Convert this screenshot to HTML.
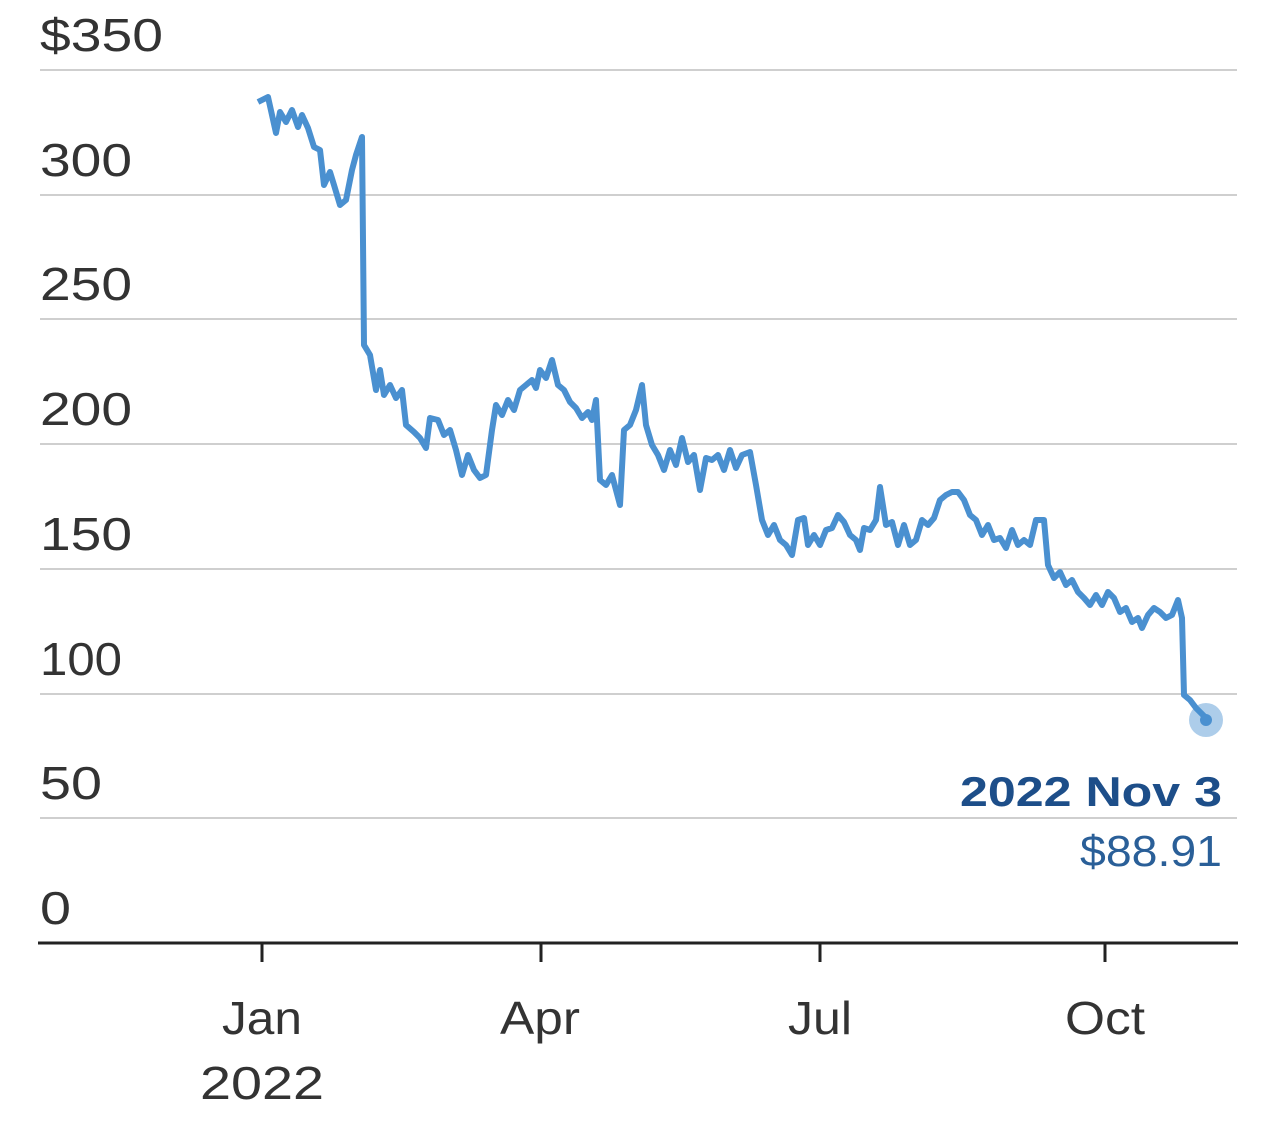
<!DOCTYPE html>
<html><head><meta charset="utf-8"><style>
html,body{margin:0;padding:0;background:#fff;}
svg text{font-family:"Liberation Sans",sans-serif;}
</style></head><body>
<svg width="1280" height="1130" viewBox="0 0 1280 1130" xmlns="http://www.w3.org/2000/svg">
<g stroke="#cfcfcf" stroke-width="2">
<line x1="40" y1="70" x2="1237" y2="70"/>
<line x1="40" y1="195" x2="1237" y2="195"/>
<line x1="40" y1="319" x2="1237" y2="319"/>
<line x1="40" y1="444" x2="1237" y2="444"/>
<line x1="40" y1="569" x2="1237" y2="569"/>
<line x1="40" y1="694" x2="1237" y2="694"/>
<line x1="40" y1="818" x2="1237" y2="818"/>
</g>
<line x1="38" y1="943" x2="1238" y2="943" stroke="#222" stroke-width="3"/>
<g stroke="#222" stroke-width="3">
<line x1="262" y1="943" x2="262" y2="962"/>
<line x1="541" y1="943" x2="541" y2="962"/>
<line x1="820" y1="943" x2="820" y2="962"/>
<line x1="1105" y1="943" x2="1105" y2="962"/>
</g>
<g fill="#333" font-size="46">
<text x="40" y="51" textLength="123" lengthAdjust="spacingAndGlyphs">$350</text>
<text x="40" y="176" textLength="92" lengthAdjust="spacingAndGlyphs">300</text>
<text x="40" y="300" textLength="92" lengthAdjust="spacingAndGlyphs">250</text>
<text x="40" y="425" textLength="92" lengthAdjust="spacingAndGlyphs">200</text>
<text x="40" y="550" textLength="92" lengthAdjust="spacingAndGlyphs">150</text>
<text x="40" y="675" textLength="82" lengthAdjust="spacingAndGlyphs">100</text>
<text x="40" y="799" textLength="62" lengthAdjust="spacingAndGlyphs">50</text>
<text x="40" y="924" textLength="31" lengthAdjust="spacingAndGlyphs">0</text>
</g>
<g fill="#333" font-size="46">
<text x="222" y="1034" textLength="80" lengthAdjust="spacingAndGlyphs">Jan</text>
<text x="200" y="1099" textLength="124" lengthAdjust="spacingAndGlyphs">2022</text>
<text x="500" y="1034" textLength="80" lengthAdjust="spacingAndGlyphs">Apr</text>
<text x="788" y="1034" textLength="64" lengthAdjust="spacingAndGlyphs">Jul</text>
<text x="1065" y="1034" textLength="80" lengthAdjust="spacingAndGlyphs">Oct</text>
</g>
<polyline fill="none" stroke="#4a90d0" stroke-width="6" stroke-linejoin="round" points="258,102 268,97 276,133 280,112 286,122 292,110 298,127 302,115 308,128 314,147 320,150 324,185 330,172 334,185 340,205 346,200 352,170 356,155 362,137 364,345 370,355 376,390 380,370 384,395 390,385 396,398 402,390 406,425 414,432 420,438 426,448 430,418 438,420 444,435 450,430 456,450 462,475 468,455 474,470 480,478 486,475 492,430 496,405 502,415 508,400 514,410 520,390 526,385 532,380 536,388 540,370 546,378 552,360 558,385 564,390 570,402 576,408 582,418 588,412 592,420 596,400 600,480 606,485 612,475 620,505 624,430 630,425 636,410 642,385 646,425 652,445 658,455 664,470 670,450 676,465 682,438 688,462 694,455 700,490 706,458 712,460 718,455 724,470 730,450 736,468 742,455 750,452 756,485 762,520 768,535 774,525 780,540 786,545 792,555 798,520 804,518 808,545 814,535 820,545 826,530 832,528 838,515 844,522 850,535 856,540 860,550 864,528 870,530 876,520 880,487 886,525 892,522 898,545 904,525 910,545 916,540 922,520 928,525 934,518 940,500 946,495 952,492 958,492 964,500 970,515 976,520 982,535 988,525 994,540 1000,538 1006,548 1012,530 1018,545 1024,540 1030,545 1036,520 1044,520 1048,565 1054,578 1060,572 1066,585 1072,580 1078,592 1084,598 1090,605 1096,595 1102,605 1108,592 1114,598 1120,612 1126,608 1132,622 1138,618 1142,628 1148,615 1154,608 1160,612 1166,618 1172,615 1178,600 1182,618 1184,695 1190,700 1196,708 1206,718"/>
<circle cx="1206" cy="720" r="17" fill="#4a90d0" opacity="0.45"/>
<circle cx="1206" cy="720" r="6" fill="#4a90d0"/>
<text x="960" y="806" font-size="42" font-weight="bold" fill="#1d4e89" textLength="262" lengthAdjust="spacingAndGlyphs">2022 Nov 3</text>
<text x="1080" y="866" font-size="44" fill="#2a5f98" textLength="142" lengthAdjust="spacingAndGlyphs">$88.91</text>
</svg>
</body></html>
